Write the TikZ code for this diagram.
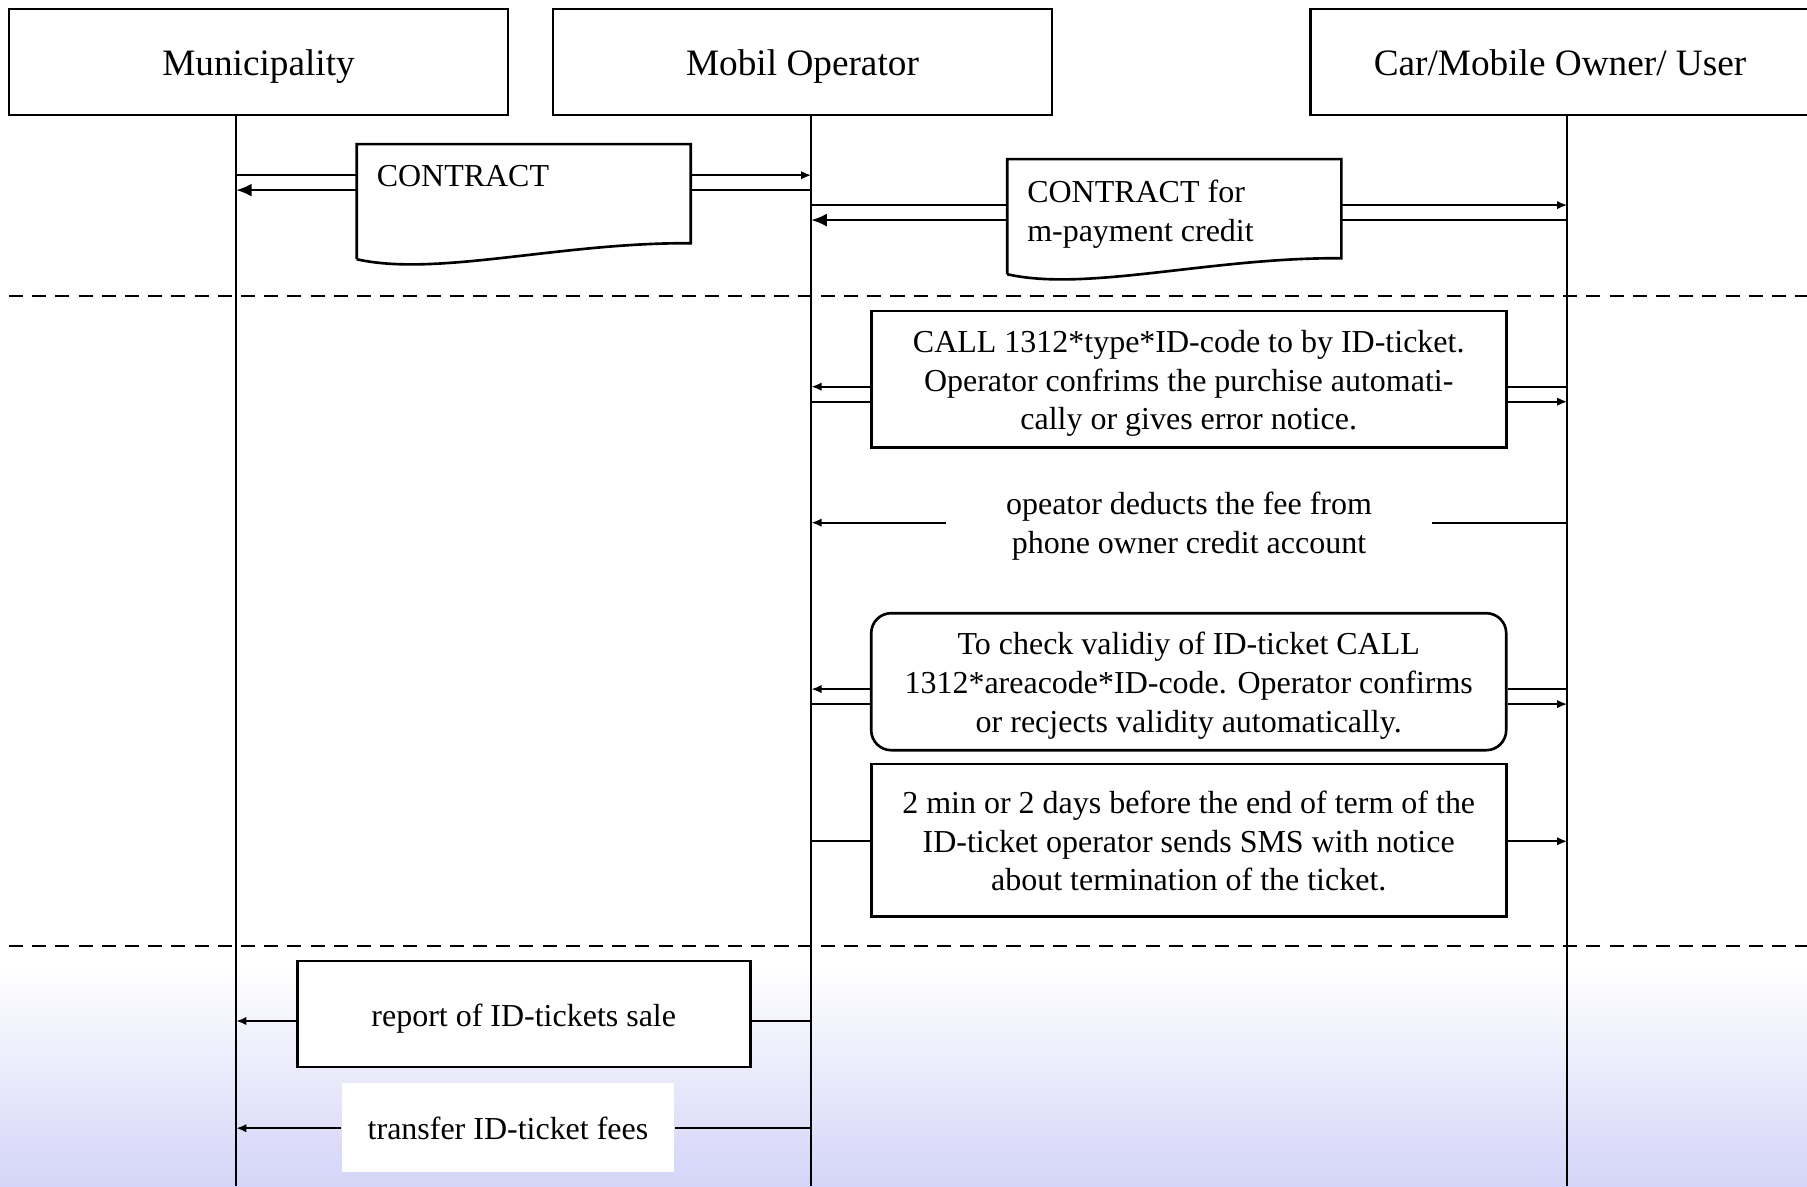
\documentclass[tikz,border=0pt]{standalone}
\usepackage{fontspec}
\setmainfont{Liberation Serif}
\usepackage{tikz}
\usetikzlibrary{calc}
\usetikzlibrary{shapes,arrows.meta}
\definecolor{lavender}{RGB}{212,212,248}

% outline of a document with a wavy bottom edge
\newcommand{\wavedoc}[1]{%
  \draw[line width=0.75pt, fill=white] (#1.south west) -- (#1.north west) -- (#1.north east)
    -- ([yshift=0.16cm]#1.south east)
    .. controls ([xshift=-1.3cm,yshift=0.17cm]#1.south east) and ([xshift=0.8cm,yshift=-0.18cm]#1.south west) .. (#1.south west);}

\begin{document}
\begin{tikzpicture}[
    line width=0.6pt,
    lifehead/.style={draw, line width=0.8pt, minimum width=4.99cm, minimum height=1.06cm, inner sep=0pt,
      text height=10.4pt, text depth=2.6pt, font=\fontsize{10.6}{12.5}\selectfont},
    textlift/.style={execute at begin node={\rule{0pt}{#1}}},
    msgbox/.style={draw, fill=white, line width=0.75pt, align=center, inner sep=0pt, font=\fontsize{9.1}{11}\selectfont,
      textlift=9.2pt, execute at end node={\rule[-2.4pt]{0pt}{2.4pt}}},
    docshape/.style={minimum width=3.32cm, minimum height=1.13cm, inner sep=0pt},
    doctext/.style={anchor=north west, align=left, inner sep=0pt, font=\fontsize{9.1}{11}\selectfont},
    plaintext/.style={fill=white, align=center, inner sep=0pt, font=\fontsize{9.1}{11}\selectfont,
      textlift=9.2pt, execute at end node={\rule[-2.4pt]{0pt}{2.4pt}}},
    sarr/.style={-{Latex[length=2.9pt,width=2.4pt]}},
    barr/.style={-{Latex[length=4.4pt,width=3.7pt]}},
    divider/.style={dash pattern=on 4pt off 2.6pt, line width=0.7pt}
  ]
    \useasboundingbox (0,0) rectangle (18.07,11.86);
    \fill[top color=white, bottom color=lavender] (0,0) rectangle (18.07,2.2);

    % lifelines
    \node[lifehead] (muni) at (2.585,11.24) {Municipality};
    \node[lifehead] (oper) at (8.025,11.24) {Mobil Operator};
    \node[lifehead] (user) at (15.6,11.24) {Car/Mobile Owner/ User};

    \coordinate (M1) at (2.362,0);
    \coordinate (O1) at (8.113,0);
    \coordinate (U1) at (15.673,0);
    \draw (M1 |- muni.south) -- (M1);
    \draw (O1 |- oper.south) -- (O1);
    \draw (U1 |- user.south) -- (U1);

    \coordinate (D0) at (0.09,8.898);
    \coordinate (D1) at (18.07,8.898);
    \coordinate (D2) at (0.09,2.399);
    \coordinate (D3) at (18.07,2.399);
    \draw[divider] (D0) -- (D1);
    \draw[divider] (D2) -- (D3);

    \coordinate (M2) at (2.362,10.108);
    \coordinate (M3) at (2.362,9.959);
    \coordinate (M4) at (2.362,1.65);
    \coordinate (M5) at (2.362,0.578);
    \coordinate (O2) at (8.113,10.108);
    \coordinate (O3) at (8.113,9.959);
    \coordinate (O4) at (8.113,9.809);
    \coordinate (O5) at (8.113,9.659);
    \coordinate (O6) at (8.113,7.993);
    \coordinate (O7) at (8.113,7.843);
    \coordinate (O8) at (8.113,6.633);
    \coordinate (O9) at (8.113,4.969);
    \coordinate (O10) at (8.113,4.819);
    \coordinate (O11) at (8.113,3.447);
    \coordinate (O12) at (8.113,1.65);
    \coordinate (O13) at (8.113,0.578);
    \coordinate (U2) at (15.673,9.809);
    \coordinate (U3) at (15.673,9.659);
    \coordinate (U4) at (15.673,7.993);
    \coordinate (U5) at (15.673,7.843);
    \coordinate (U6) at (15.673,6.633);
    \coordinate (U7) at (15.673,4.969);
    \coordinate (U8) at (15.673,4.819);
    \coordinate (U9) at (15.673,3.447);

    % contracts
    \node[docshape] (contr) at (5.2375,9.843) {};
    \node[docshape] (credit) at (11.7425,9.693) {};
    \wavedoc{contr}
    \wavedoc{credit}
    \node[doctext] (contrtext) at ([xshift=0.19cm,yshift=-0.2cm]contr.north west) {CONTRACT};
    \node[doctext] (credittext) at ([xshift=0.19cm,yshift=-0.2cm]credit.north west) {CONTRACT for\\m-payment credit};

    \draw (M2) -- (contr.west |- M2);
    \draw[sarr] (contr.east |- O2) -- (O2);
    \draw (O3) -- (contr.east |- O3);
    \draw[barr] (contr.west |- M3) -- (M3);

    \draw (O4) -- (credit.west |- O4);
    \draw[sarr] (credit.east |- U2) -- (U2);
    \draw (U3) -- (credit.east |- U3);
    \draw[barr] (credit.west |- O5) -- (O5);

    % buying and checking
    \node[msgbox, textlift=31.2pt, minimum width=6.35cm, minimum height=1.362cm] (call) at (11.887,8.069)
      {CALL 1312*type*ID-code to by ID-ticket.\\Operator confrims the purchise automati-\\cally or gives error notice.};
    \draw[sarr] (call.west |- O6) -- (O6);
    \draw (call.east |- U4) -- (U4);
    \draw (O7) -- (call.west |- O7);
    \draw[sarr] (call.east |- U5) -- (U5);

    \node[plaintext, textlift=20.2pt, minimum width=4.834cm, minimum height=0.9cm] (deduct) at (11.89,6.64)
      {opeator deducts the fee from\\phone owner credit account};
    \draw (U6) -- (deduct.east |- U6);
    \draw[sarr] (deduct.west |- O8) -- (O8);

    \node[msgbox, textlift=31.2pt, rounded corners=0.2cm, minimum width=6.35cm, minimum height=1.37cm] (check) at (11.887,5.043)
      {To check validiy of ID-ticket CALL\\1312*areacode*ID-code. Operator confirms\\or recjects validity automatically.};
    \draw[sarr] (check.west |- O9) -- (O9);
    \draw (check.east |- U7) -- (U7);
    \draw (O10) -- (check.west |- O10);
    \draw[sarr] (check.east |- U8) -- (U8);

    \node[msgbox, textlift=31.2pt, minimum width=6.35cm, minimum height=1.522cm] (notice) at (11.887,3.459)
      {2 min or 2 days before the end of term of the\\ID-ticket operator sends SMS with notice\\about termination of the ticket.};
    \draw (O11) -- (notice.west |- O11);
    \draw[sarr] (notice.east |- U9) -- (U9);

    % settlement
    \node[msgbox, minimum width=4.529cm, minimum height=1.06cm] (report) at (5.2375,1.719) {report of ID-tickets sale};
    \draw (O12) -- (report.east |- O12);
    \draw[sarr] (report.west |- M4) -- (M4);

    \node[plaintext, minimum width=3.319cm, minimum height=0.887cm] (transfer) at (5.08,0.584) {transfer ID-ticket fees};
    \draw (O13) -- (transfer.east |- O13);
    \draw[sarr] (transfer.west |- M5) -- (M5);
  \end{tikzpicture}
\end{document}
